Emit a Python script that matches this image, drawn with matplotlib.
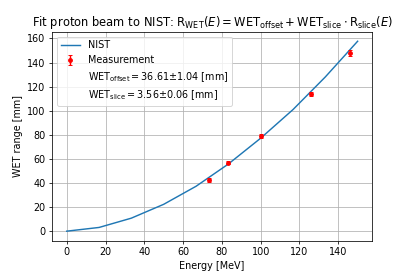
import matplotlib
matplotlib.use("Agg")
import matplotlib.pyplot as plt

# NIST range in water (CSDA)
nist_energy = [0.0, 16.7, 33.3, 50.0, 66.7, 83.3, 100.0, 116.7, 133.3, 150.0]
nist_range = [0.0, 3.1, 10.8, 22.3, 37.3, 55.7, 77.2, 101.0, 128.0, 157.7]

# measured WET ranges
meas_energy = [73.5, 83.2, 100.4, 125.7, 145.9]
meas_range = [42.7, 57.0, 78.8, 113.8, 148.0]
meas_err = [1.6, 1.6, 1.6, 1.6, 2.6]

wet_offset = (36.61, 1.04)
wet_slice = (3.56, 0.06)

fig, ax = plt.subplots(figsize=(6, 4), dpi=69)
fig.subplots_adjust(left=0.126, right=0.899, top=0.885, bottom=0.128)

h_nist, = ax.plot(nist_energy, nist_range, label="NIST")
h_meas = ax.errorbar(meas_energy, meas_range, yerr=meas_err, fmt="o", color="red",
                     markersize=4, capsize=2, label="Measurement")
h_off, = ax.plot([], [], " ",
                 label=r"$\mathrm{WET_{offset}} = $" + f"{wet_offset[0]:.2f}±{wet_offset[1]:.2f} [mm]")
h_sl, = ax.plot([], [], " ",
                label=r"$\mathrm{WET_{slice}} = $" + f"{wet_slice[0]:.2f}±{wet_slice[1]:.2f} [mm]")

ax.set_title(r"Fit proton beam to NIST: $\mathrm{R_{WET}}(E) = \mathrm{WET_{offset}}"
             r" + \mathrm{WET_{slice}} \cdot \mathrm{R_{slice}}(E)$")
ax.set_xlabel("Energy [MeV]")
ax.set_ylabel("WET range [mm]")
ax.grid(True)
ax.legend(handles=[h_nist, h_meas, h_off, h_sl], loc="upper left")

fig.savefig("out.png", dpi=69)
